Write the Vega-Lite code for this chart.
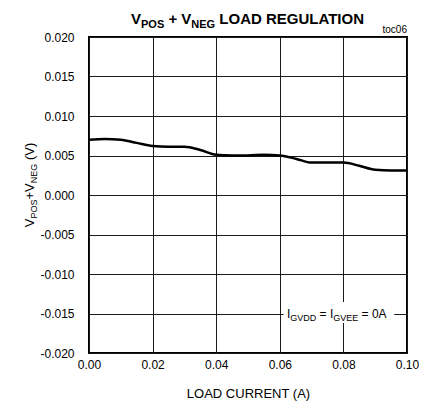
{
  "$schema": "https://vega.github.io/schema/vega-lite/v6.json",
  "width": 318,
  "height": 316,
  "autosize": {"type": "none"},
  "padding": {"left": 89, "top": 37, "right": 22, "bottom": 54},
  "background": "white",
  "data": {"values": [{"one": 1}]},
  "config": {
    "font": "Liberation Sans, Arial, sans-serif",
    "view": {"stroke": "black", "strokeWidth": 2},
    "axis": {
      "grid": true, "gridColor": "#1a1a1a", "gridWidth": 1, "gridOpacity": 1,
      "domain": false, "ticks": false, "tickSize": 0,
      "labelFont": "Liberation Sans, Arial, sans-serif",
      "labelFontSize": 12, "labelColor": "black", "labelOverlap": false, "labelFlush": false,
      "titleFont": "Liberation Sans, Arial, sans-serif",
      "titleFontSize": 13, "titleFontWeight": "normal", "titleColor": "black"
    },
    "text": {"font": "Liberation Sans, Arial, sans-serif", "color": "black"}
  },
  "datasets": {
    "curve": [
      {"current": 0.000, "v": 0.0070},
      {"current": 0.005, "v": 0.0071},
      {"current": 0.010, "v": 0.0070},
      {"current": 0.015, "v": 0.0066},
      {"current": 0.020, "v": 0.0062},
      {"current": 0.025, "v": 0.0061},
      {"current": 0.030, "v": 0.0061},
      {"current": 0.035, "v": 0.0057},
      {"current": 0.040, "v": 0.0051},
      {"current": 0.045, "v": 0.0050},
      {"current": 0.050, "v": 0.0050},
      {"current": 0.055, "v": 0.0051},
      {"current": 0.060, "v": 0.0050},
      {"current": 0.065, "v": 0.0046},
      {"current": 0.070, "v": 0.0041},
      {"current": 0.075, "v": 0.0041},
      {"current": 0.080, "v": 0.0041},
      {"current": 0.085, "v": 0.0037},
      {"current": 0.090, "v": 0.0032},
      {"current": 0.095, "v": 0.0031},
      {"current": 0.100, "v": 0.0031}
    ]
  },
  "layer": [
    {
      "data": {"name": "curve"},
      "mark": {"type": "line", "color": "black", "strokeWidth": 2.5, "interpolate": "monotone", "clip": true},
      "encoding": {
        "x": {"field": "current", "type": "quantitative",
          "scale": {"domain": [0, 0.1], "nice": false, "zero": false},
          "axis": {"values": [0, 0.02, 0.04, 0.06, 0.08, 0.1], "format": ".2f", "labelPadding": 6, "title": "LOAD CURRENT (A)", "titleY": 44, "titleBaseline": "alphabetic"}},
        "y": {"field": "v", "type": "quantitative",
          "scale": {"domain": [-0.02, 0.02], "nice": false, "zero": false},
          "axis": {"values": [-0.02, -0.015, -0.01, -0.005, 0, 0.005, 0.01, 0.015, 0.02], "format": ".3f", "labelExpr": "replace(format(datum.value, '.3f'), '\u2212', '-')", "labelPadding": 15, "title": null}}
      }
    },
    {
      "mark": {"type": "rect", "color": "white"},
      "encoding": {
        "x": {"datum": 0.0612, "type": "quantitative", "scale": {"domain": [0, 0.1], "nice": false, "zero": false},
          "axis": {"values": [0, 0.02, 0.04, 0.06, 0.08, 0.1], "format": ".2f", "labelPadding": 6, "title": "LOAD CURRENT (A)", "titleY": 44, "titleBaseline": "alphabetic"}},
        "x2": {"datum": 0.0960},
        "y": {"datum": -0.01354, "type": "quantitative", "scale": {"domain": [-0.02, 0.02], "nice": false, "zero": false},
          "axis": {"values": [-0.02, -0.015, -0.01, -0.005, 0, 0.005, 0.01, 0.015, 0.02], "format": ".3f", "labelExpr": "replace(format(datum.value, '.3f'), '\u2212', '-')", "labelPadding": 15, "title": null}},
        "y2": {"datum": -0.01620}
      }
    },
    {
      "mark": {"type": "text", "text": "I", "fontSize": 12, "align": "left", "baseline": "alphabetic"},
      "encoding": {
        "x": {"datum": 0.062264, "type": "quantitative", "scale": {"domain": [0, 0.1], "nice": false, "zero": false},
          "axis": {"values": [0, 0.02, 0.04, 0.06, 0.08, 0.1], "format": ".2f", "labelPadding": 6, "title": "LOAD CURRENT (A)", "titleY": 44, "titleBaseline": "alphabetic"}},
        "y": {"datum": -0.01557, "type": "quantitative", "scale": {"domain": [-0.02, 0.02], "nice": false, "zero": false},
          "axis": {"values": [-0.02, -0.015, -0.01, -0.005, 0, 0.005, 0.01, 0.015, 0.02], "format": ".3f", "labelExpr": "replace(format(datum.value, '.3f'), '\u2212', '-')", "labelPadding": 15, "title": null}}
      }
    },
    {
      "mark": {"type": "text", "text": "GVDD", "fontSize": 9, "align": "left", "baseline": "alphabetic"},
      "encoding": {
        "x": {"datum": 0.063302, "type": "quantitative", "scale": {"domain": [0, 0.1], "nice": false, "zero": false},
          "axis": {"values": [0, 0.02, 0.04, 0.06, 0.08, 0.1], "format": ".2f", "labelPadding": 6, "title": "LOAD CURRENT (A)", "titleY": 44, "titleBaseline": "alphabetic"}},
        "y": {"datum": -0.015949, "type": "quantitative", "scale": {"domain": [-0.02, 0.02], "nice": false, "zero": false},
          "axis": {"values": [-0.02, -0.015, -0.01, -0.005, 0, 0.005, 0.01, 0.015, 0.02], "format": ".3f", "labelExpr": "replace(format(datum.value, '.3f'), '\u2212', '-')", "labelPadding": 15, "title": null}}
      }
    },
    {
      "mark": {"type": "text", "text": "=\u00a0I", "fontSize": 12, "align": "left", "baseline": "alphabetic"},
      "encoding": {
        "x": {"datum": 0.072516, "type": "quantitative", "scale": {"domain": [0, 0.1], "nice": false, "zero": false},
          "axis": {"values": [0, 0.02, 0.04, 0.06, 0.08, 0.1], "format": ".2f", "labelPadding": 6, "title": "LOAD CURRENT (A)", "titleY": 44, "titleBaseline": "alphabetic"}},
        "y": {"datum": -0.01557, "type": "quantitative", "scale": {"domain": [-0.02, 0.02], "nice": false, "zero": false},
          "axis": {"values": [-0.02, -0.015, -0.01, -0.005, 0, 0.005, 0.01, 0.015, 0.02], "format": ".3f", "labelExpr": "replace(format(datum.value, '.3f'), '\u2212', '-')", "labelPadding": 15, "title": null}}
      }
    },
    {
      "mark": {"type": "text", "text": "GVEE", "fontSize": 9, "align": "left", "baseline": "alphabetic"},
      "encoding": {
        "x": {"datum": 0.076824, "type": "quantitative", "scale": {"domain": [0, 0.1], "nice": false, "zero": false},
          "axis": {"values": [0, 0.02, 0.04, 0.06, 0.08, 0.1], "format": ".2f", "labelPadding": 6, "title": "LOAD CURRENT (A)", "titleY": 44, "titleBaseline": "alphabetic"}},
        "y": {"datum": -0.015949, "type": "quantitative", "scale": {"domain": [-0.02, 0.02], "nice": false, "zero": false},
          "axis": {"values": [-0.02, -0.015, -0.01, -0.005, 0, 0.005, 0.01, 0.015, 0.02], "format": ".3f", "labelExpr": "replace(format(datum.value, '.3f'), '\u2212', '-')", "labelPadding": 15, "title": null}}
      }
    },
    {
      "mark": {"type": "text", "text": "=\u00a00A", "fontSize": 12, "align": "left", "baseline": "alphabetic"},
      "encoding": {
        "x": {"datum": 0.085723, "type": "quantitative", "scale": {"domain": [0, 0.1], "nice": false, "zero": false},
          "axis": {"values": [0, 0.02, 0.04, 0.06, 0.08, 0.1], "format": ".2f", "labelPadding": 6, "title": "LOAD CURRENT (A)", "titleY": 44, "titleBaseline": "alphabetic"}},
        "y": {"datum": -0.01557, "type": "quantitative", "scale": {"domain": [-0.02, 0.02], "nice": false, "zero": false},
          "axis": {"values": [-0.02, -0.015, -0.01, -0.005, 0, 0.005, 0.01, 0.015, 0.02], "format": ".3f", "labelExpr": "replace(format(datum.value, '.3f'), '\u2212', '-')", "labelPadding": 15, "title": null}}
      }
    },
    {
      "mark": {"type": "text", "text": "V", "fontSize": 15, "fontWeight": "bold", "align": "left", "baseline": "alphabetic"},
      "encoding": {
        "x": {"datum": 0.013208, "type": "quantitative", "scale": {"domain": [0, 0.1], "nice": false, "zero": false},
          "axis": {"values": [0, 0.02, 0.04, 0.06, 0.08, 0.1], "format": ".2f", "labelPadding": 6, "title": "LOAD CURRENT (A)", "titleY": 44, "titleBaseline": "alphabetic"}},
        "y": {"datum": 0.021646, "type": "quantitative", "scale": {"domain": [-0.02, 0.02], "nice": false, "zero": false},
          "axis": {"values": [-0.02, -0.015, -0.01, -0.005, 0, 0.005, 0.01, 0.015, 0.02], "format": ".3f", "labelExpr": "replace(format(datum.value, '.3f'), '\u2212', '-')", "labelPadding": 15, "title": null}}
      }
    },
    {
      "mark": {"type": "text", "text": "POS", "fontSize": 11, "fontWeight": "bold", "align": "left", "baseline": "alphabetic"},
      "encoding": {
        "x": {"datum": 0.016352, "type": "quantitative", "scale": {"domain": [0, 0.1], "nice": false, "zero": false},
          "axis": {"values": [0, 0.02, 0.04, 0.06, 0.08, 0.1], "format": ".2f", "labelPadding": 6, "title": "LOAD CURRENT (A)", "titleY": 44, "titleBaseline": "alphabetic"}},
        "y": {"datum": 0.021139, "type": "quantitative", "scale": {"domain": [-0.02, 0.02], "nice": false, "zero": false},
          "axis": {"values": [-0.02, -0.015, -0.01, -0.005, 0, 0.005, 0.01, 0.015, 0.02], "format": ".3f", "labelExpr": "replace(format(datum.value, '.3f'), '\u2212', '-')", "labelPadding": 15, "title": null}}
      }
    },
    {
      "mark": {"type": "text", "text": "+\u00a0V", "fontSize": 15, "fontWeight": "bold", "align": "left", "baseline": "alphabetic"},
      "encoding": {
        "x": {"datum": 0.024969, "type": "quantitative", "scale": {"domain": [0, 0.1], "nice": false, "zero": false},
          "axis": {"values": [0, 0.02, 0.04, 0.06, 0.08, 0.1], "format": ".2f", "labelPadding": 6, "title": "LOAD CURRENT (A)", "titleY": 44, "titleBaseline": "alphabetic"}},
        "y": {"datum": 0.021646, "type": "quantitative", "scale": {"domain": [-0.02, 0.02], "nice": false, "zero": false},
          "axis": {"values": [-0.02, -0.015, -0.01, -0.005, 0, 0.005, 0.01, 0.015, 0.02], "format": ".3f", "labelExpr": "replace(format(datum.value, '.3f'), '\u2212', '-')", "labelPadding": 15, "title": null}}
      }
    },
    {
      "mark": {"type": "text", "text": "NEG", "fontSize": 11, "fontWeight": "bold", "align": "left", "baseline": "alphabetic"},
      "encoding": {
        "x": {"datum": 0.032138, "type": "quantitative", "scale": {"domain": [0, 0.1], "nice": false, "zero": false},
          "axis": {"values": [0, 0.02, 0.04, 0.06, 0.08, 0.1], "format": ".2f", "labelPadding": 6, "title": "LOAD CURRENT (A)", "titleY": 44, "titleBaseline": "alphabetic"}},
        "y": {"datum": 0.021139, "type": "quantitative", "scale": {"domain": [-0.02, 0.02], "nice": false, "zero": false},
          "axis": {"values": [-0.02, -0.015, -0.01, -0.005, 0, 0.005, 0.01, 0.015, 0.02], "format": ".3f", "labelExpr": "replace(format(datum.value, '.3f'), '\u2212', '-')", "labelPadding": 15, "title": null}}
      }
    },
    {
      "mark": {"type": "text", "text": "LOAD REGULATION", "fontSize": 15, "fontWeight": "bold", "align": "left", "baseline": "alphabetic"},
      "encoding": {
        "x": {"datum": 0.040975, "type": "quantitative", "scale": {"domain": [0, 0.1], "nice": false, "zero": false},
          "axis": {"values": [0, 0.02, 0.04, 0.06, 0.08, 0.1], "format": ".2f", "labelPadding": 6, "title": "LOAD CURRENT (A)", "titleY": 44, "titleBaseline": "alphabetic"}},
        "y": {"datum": 0.021646, "type": "quantitative", "scale": {"domain": [-0.02, 0.02], "nice": false, "zero": false},
          "axis": {"values": [-0.02, -0.015, -0.01, -0.005, 0, 0.005, 0.01, 0.015, 0.02], "format": ".3f", "labelExpr": "replace(format(datum.value, '.3f'), '\u2212', '-')", "labelPadding": 15, "title": null}}
      }
    },
    {
      "mark": {"type": "text", "text": "toc06", "fontSize": 10, "align": "right", "baseline": "alphabetic"},
      "encoding": {
        "x": {"datum": 0.1, "type": "quantitative", "scale": {"domain": [0, 0.1], "nice": false, "zero": false},
          "axis": {"values": [0, 0.02, 0.04, 0.06, 0.08, 0.1], "format": ".2f", "labelPadding": 6, "title": "LOAD CURRENT (A)", "titleY": 44, "titleBaseline": "alphabetic"}},
        "y": {"datum": 0.020506, "type": "quantitative", "scale": {"domain": [-0.02, 0.02], "nice": false, "zero": false},
          "axis": {"values": [-0.02, -0.015, -0.01, -0.005, 0, 0.005, 0.01, 0.015, 0.02], "format": ".3f", "labelExpr": "replace(format(datum.value, '.3f'), '\u2212', '-')", "labelPadding": 15, "title": null}}
      }
    },
    {
      "mark": {"type": "text", "text": "V", "fontSize": 13, "angle": 270, "align": "left", "baseline": "alphabetic"},
      "encoding": {
        "x": {"datum": -0.017296, "type": "quantitative", "scale": {"domain": [0, 0.1], "nice": false, "zero": false},
          "axis": {"values": [0, 0.02, 0.04, 0.06, 0.08, 0.1], "format": ".2f", "labelPadding": 6, "title": "LOAD CURRENT (A)", "titleY": 44, "titleBaseline": "alphabetic"}},
        "y": {"datum": -0.004076, "type": "quantitative", "scale": {"domain": [-0.02, 0.02], "nice": false, "zero": false},
          "axis": {"values": [-0.02, -0.015, -0.01, -0.005, 0, 0.005, 0.01, 0.015, 0.02], "format": ".3f", "labelExpr": "replace(format(datum.value, '.3f'), '\u2212', '-')", "labelPadding": 15, "title": null}}
      }
    },
    {
      "mark": {"type": "text", "text": "POS", "fontSize": 9, "angle": 270, "align": "left", "baseline": "alphabetic"},
      "encoding": {
        "x": {"datum": -0.016352, "type": "quantitative", "scale": {"domain": [0, 0.1], "nice": false, "zero": false},
          "axis": {"values": [0, 0.02, 0.04, 0.06, 0.08, 0.1], "format": ".2f", "labelPadding": 6, "title": "LOAD CURRENT (A)", "titleY": 44, "titleBaseline": "alphabetic"}},
        "y": {"datum": -0.002975, "type": "quantitative", "scale": {"domain": [-0.02, 0.02], "nice": false, "zero": false},
          "axis": {"values": [-0.02, -0.015, -0.01, -0.005, 0, 0.005, 0.01, 0.015, 0.02], "format": ".3f", "labelExpr": "replace(format(datum.value, '.3f'), '\u2212', '-')", "labelPadding": 15, "title": null}}
      }
    },
    {
      "mark": {"type": "text", "text": "+V", "fontSize": 13, "angle": 270, "align": "left", "baseline": "alphabetic"},
      "encoding": {
        "x": {"datum": -0.017296, "type": "quantitative", "scale": {"domain": [0, 0.1], "nice": false, "zero": false},
          "axis": {"values": [0, 0.02, 0.04, 0.06, 0.08, 0.1], "format": ".2f", "labelPadding": 6, "title": "LOAD CURRENT (A)", "titleY": 44, "titleBaseline": "alphabetic"}},
        "y": {"datum": -0.000570, "type": "quantitative", "scale": {"domain": [-0.02, 0.02], "nice": false, "zero": false},
          "axis": {"values": [-0.02, -0.015, -0.01, -0.005, 0, 0.005, 0.01, 0.015, 0.02], "format": ".3f", "labelExpr": "replace(format(datum.value, '.3f'), '\u2212', '-')", "labelPadding": 15, "title": null}}
      }
    },
    {
      "mark": {"type": "text", "text": "NEG", "fontSize": 9, "angle": 270, "align": "left", "baseline": "alphabetic"},
      "encoding": {
        "x": {"datum": -0.016352, "type": "quantitative", "scale": {"domain": [0, 0.1], "nice": false, "zero": false},
          "axis": {"values": [0, 0.02, 0.04, 0.06, 0.08, 0.1], "format": ".2f", "labelPadding": 6, "title": "LOAD CURRENT (A)", "titleY": 44, "titleBaseline": "alphabetic"}},
        "y": {"datum": 0.001494, "type": "quantitative", "scale": {"domain": [-0.02, 0.02], "nice": false, "zero": false},
          "axis": {"values": [-0.02, -0.015, -0.01, -0.005, 0, 0.005, 0.01, 0.015, 0.02], "format": ".3f", "labelExpr": "replace(format(datum.value, '.3f'), '\u2212', '-')", "labelPadding": 15, "title": null}}
      }
    },
    {
      "mark": {"type": "text", "text": "(V)", "fontSize": 13, "angle": 270, "align": "left", "baseline": "alphabetic"},
      "encoding": {
        "x": {"datum": -0.017296, "type": "quantitative", "scale": {"domain": [0, 0.1], "nice": false, "zero": false},
          "axis": {"values": [0, 0.02, 0.04, 0.06, 0.08, 0.1], "format": ".2f", "labelPadding": 6, "title": "LOAD CURRENT (A)", "titleY": 44, "titleBaseline": "alphabetic"}},
        "y": {"datum": 0.004418, "type": "quantitative", "scale": {"domain": [-0.02, 0.02], "nice": false, "zero": false},
          "axis": {"values": [-0.02, -0.015, -0.01, -0.005, 0, 0.005, 0.01, 0.015, 0.02], "format": ".3f", "labelExpr": "replace(format(datum.value, '.3f'), '\u2212', '-')", "labelPadding": 15, "title": null}}
      }
    }
  ]
}
